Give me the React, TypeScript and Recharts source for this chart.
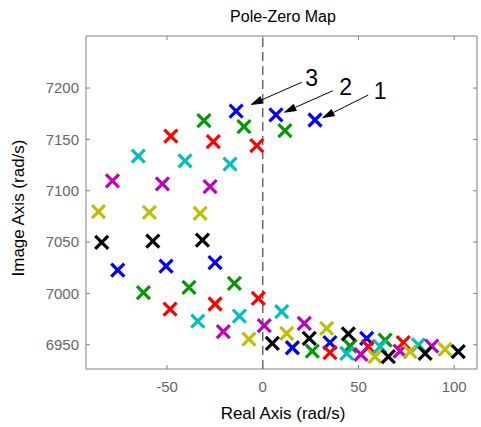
import { ScatterChart, Scatter, XAxis, YAxis, ReferenceLine, ReferenceDot } from 'recharts';

const FONT = '"Liberation Sans", Arial, Helvetica, sans-serif';

// axis ranges and ticks (rad/s)
const realLimits = [-92.3, 111.9];
const imagLimits = [6926.4, 7250.7];
const realTicks = [-50, 0, 50, 100];
const imagTicks = [6950, 7000, 7050, 7100, 7150, 7200];

// poles of each system, [real, imag]
const polesBlue = [[-13.9, 7177.6], [6.9, 7173.8], [27.3, 7168.9], [-75.7, 7022.8], [-50.5, 7026.7], [-24.9, 7029.9], [15.5, 6947.1], [35.1, 6952.0], [54.3, 6956.3]];
const polesGreen = [[-30.7, 7168.2], [-9.8, 7162.4], [11.6, 7158.5], [-62.3, 7000.7], [-38.5, 7005.9], [-14.8, 7009.8], [25.9, 6943.9], [45.6, 6948.8], [63.9, 6954.6]];
const polesRed = [[-48.0, 7153.3], [-25.8, 7147.8], [-3.1, 7143.9], [-48.4, 6984.8], [-24.9, 6989.7], [-2.3, 6995.2], [35.1, 6942.3], [55.1, 6948.2], [73.4, 6952.1]];
const polesCyan = [[-65.0, 7133.8], [-40.6, 7129.2], [-17.1, 7126.0], [-33.9, 6973.1], [-12.2, 6978.0], [9.9, 6982.2], [43.9, 6941.7], [61.3, 6948.1], [81.3, 6949.8]];
const polesMagenta = [[-78.5, 7109.5], [-52.4, 7106.6], [-27.5, 7103.9], [-20.6, 6962.7], [0.8, 6968.6], [21.7, 6970.9], [51.3, 6940.6], [71.7, 6943.9], [88.3, 6948.7]];
const polesYellow = [[-85.8, 7079.6], [-59.2, 7079.0], [-32.7, 7078.0], [-7.2, 6955.6], [12.5, 6961.2], [33.4, 6966.0], [58.6, 6938.4], [76.9, 6943.3], [95.2, 6945.6]];
const polesBlack = [[-84.1, 7049.8], [-57.4, 7051.0], [-31.5, 7052.0], [5.0, 6951.4], [24.3, 6956.3], [44.7, 6960.5], [65.6, 6938.4], [84.8, 6941.7], [102.1, 6943.3]];

const systems = [
  { name: 'sys1', color: '#0000ff', poles: polesBlue },
  { name: 'sys2', color: '#009a00', poles: polesGreen },
  { name: 'sys3', color: '#ff0000', poles: polesRed },
  { name: 'sys4', color: '#00bfbf', poles: polesCyan },
  { name: 'sys5', color: '#bf00bf', poles: polesMagenta },
  { name: 'sys6', color: '#bfbf00', poles: polesYellow },
  { name: 'sys7', color: '#000000', poles: polesBlack },
];

// annotation arrows: tail, tip, label position
const arrowTails = [[55.1, 7193.2], [36.6, 7197.4], [20.4, 7205.6]];
const arrowTips = [[30.8, 7170.5], [10.8, 7176.0], [-6.6, 7183.5]];
const arrowLabels = ['1', '2', '3'];
const labelSpots = [[61.3, 7197.1], [43.3, 7201.3], [25.6, 7209.5]];

const AXIS = '#808080';
const TICK_TEXT = '#666666';
const TICK_LEN = 4;

const makeCross = (color: string) => (props: any) => {
  const { cx, cy } = props;
  const r = 6.5;
  return (
    <g stroke={color} strokeWidth={3.2}>
      <line x1={cx - r} y1={cy - r} x2={cx + r} y2={cy + r} />
      <line x1={cx - r} y1={cy + r} x2={cx + r} y2={cy - r} />
    </g>
  );
};

const Arrow = (props: any) => {
  const { x1, y1, x2, y2 } = props;
  const dx = x2 - x1;
  const dy = y2 - y1;
  const len = Math.hypot(dx, dy) || 1;
  const ux = dx / len;
  const uy = dy / len;
  const hl = 13;
  const hw = 4;
  const bx = x2 - ux * hl;
  const by = y2 - uy * hl;
  const pts = `${x2},${y2} ${bx - uy * hw},${by + ux * hw} ${bx + uy * hw},${by - ux * hw}`;
  return (
    <g>
      <line x1={x1} y1={y1} x2={bx} y2={by} stroke="#000" strokeWidth={1} />
      <polygon points={pts} fill="#000" />
    </g>
  );
};

const BottomTick = (props: any) => {
  const { x, y, payload } = props;
  return (
    <g>
      <line x1={x} y1={y} x2={x} y2={y - TICK_LEN} stroke={AXIS} />
      <text x={x} y={y + 23} textAnchor="middle" fill={TICK_TEXT} fontSize={15} fontFamily={FONT}>
        {payload.value}
      </text>
    </g>
  );
};

const LeftTick = (props: any) => {
  const { x, y, payload } = props;
  return (
    <g>
      <line x1={x} y1={y} x2={x + TICK_LEN} y2={y} stroke={AXIS} />
      <text x={x - 7} y={y + 5.3} textAnchor="end" fill={TICK_TEXT} fontSize={15} fontFamily={FONT}>
        {payload.value}
      </text>
    </g>
  );
};

const TopTick = (props: any) => (
  <line x1={props.x} y1={props.y} x2={props.x} y2={props.y + TICK_LEN} stroke={AXIS} />
);

const RightTick = (props: any) => (
  <line x1={props.x} y1={props.y} x2={props.x - TICK_LEN} y2={props.y} stroke={AXIS} />
);

export default function App() {
  const last = systems[systems.length - 1];
  return (
    <div style={{ position: 'absolute', left: 0, top: 0, background: '#fff' }}>
      <ScatterChart width={481} height={427} margin={{ top: 35, right: 3, bottom: 0, left: 0 }}>
        <XAxis
          type="number"
          dataKey="re"
          domain={realLimits}
          ticks={realTicks}
          interval={0}
          allowDataOverflow
          height={58}
          stroke={AXIS}
          tickLine={false}
          tickSize={0}
          tickMargin={0}
          tick={<BottomTick />}
          label={(p: any) => (
            <text
              x={p.viewBox.x + p.viewBox.width / 2 + 1.5}
              y={p.viewBox.y + 50}
              textAnchor="middle"
              fontSize={17}
              fontFamily={FONT}
              fill="#000"
            >
              Real Axis (rad/s)
            </text>
          )}
        />
        <XAxis
          xAxisId="top"
          orientation="top"
          type="number"
          dataKey="re"
          domain={realLimits}
          ticks={realTicks}
          interval={0}
          allowDataOverflow
          height={1}
          stroke={AXIS}
          tickLine={false}
          tickSize={0}
          tickMargin={0}
          tick={<TopTick />}
          label={(p: any) => (
            <text
              x={p.viewBox.x + p.viewBox.width / 2 + 1.5}
              y={p.viewBox.y - 13}
              textAnchor="middle"
              fontSize={16}
              fontFamily={FONT}
              fill="#000"
            >
              Pole-Zero Map
            </text>
          )}
        />
        <YAxis
          type="number"
          dataKey="im"
          domain={imagLimits}
          ticks={imagTicks}
          interval={0}
          allowDataOverflow
          width={86}
          stroke={AXIS}
          tickLine={false}
          tickSize={0}
          tickMargin={0}
          tick={<LeftTick />}
          label={(p: any) => (
            <text
              x={p.viewBox.x + 24}
              y={p.viewBox.y + p.viewBox.height / 2 + 5.5}
              textAnchor="middle"
              fontSize={17}
              fontFamily={FONT}
              fill="#000"
              transform={`rotate(-90 ${p.viewBox.x + 24} ${p.viewBox.y + p.viewBox.height / 2 + 5.5})`}
            >
              Image Axis (rad/s)
            </text>
          )}
        />
        <YAxis
          yAxisId="right"
          orientation="right"
          type="number"
          dataKey="im"
          domain={imagLimits}
          ticks={imagTicks}
          interval={0}
          allowDataOverflow
          width={1}
          stroke={AXIS}
          tickLine={false}
          tickSize={0}
          tickMargin={0}
          tick={<RightTick />}
        />
        <ReferenceLine x={0} stroke="#6a6a6a" strokeWidth={1.5} strokeDasharray="9 5" />
        {systems.slice(0, -1).map((s) => (
          <Scatter
            key={s.name}
            name={s.name}
            data={s.poles.map(([re, im]) => ({ re, im }))}
            shape={makeCross(s.color)}
            isAnimationActive={false}
          />
        ))}
        {/* last system drawn on the top/right axes so those frame edges render too (same limits) */}
        <Scatter
          key={last.name}
          name={last.name}
          xAxisId="top"
          yAxisId="right"
          data={last.poles.map(([re, im]) => ({ re, im }))}
          shape={makeCross(last.color)}
          isAnimationActive={false}
        />
        {arrowTails.map((t, i) => (
          <ReferenceLine
            key={`arrow${i}`}
            segment={[
              { x: t[0], y: t[1] },
              { x: arrowTips[i][0], y: arrowTips[i][1] },
            ]}
            shape={<Arrow />}
          />
        ))}
        {labelSpots.map((p, i) => (
          <ReferenceDot
            key={`lbl${i}`}
            x={p[0]}
            y={p[1]}
            r={0}
            shape={(sp: any) => (
              <text
                x={sp.cx}
                y={sp.cy + 8}
                textAnchor="middle"
                fontSize={23}
                fontFamily={FONT}
                fill="#000"
              >
                {arrowLabels[i]}
              </text>
            )}
          />
        ))}
      </ScatterChart>
    </div>
  );
}
